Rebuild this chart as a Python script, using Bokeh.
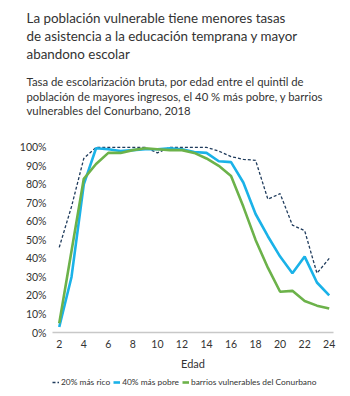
from bokeh.plotting import figure
from bokeh.models import Title, Legend, LegendItem, FixedTicker, Range1d
from bokeh.layouts import column
from bokeh.embed import file_html
from bokeh.resources import INLINE

ages = list(range(2, 25))
rico = [46, 68, 94, 100, 100, 100, 100, 100, 97, 100, 100, 100, 100, 98, 95, 93.5, 93, 72, 75, 58, 55, 32, 40]
pobre = [3, 30, 80, 99.5, 99, 98, 98.5, 99, 99, 99.5, 99, 97.5, 97, 92.5, 92, 81, 64, 52, 41, 32, 41, 27, 20]
barrios = [5, 44, 83, 91, 97, 97, 98.5, 99.5, 99, 98.5, 98.5, 97, 94, 90, 84.5, 68, 50, 35, 22, 22.5, 17, 14.5, 13]

title_lines = "La población vulnerable tiene menores tasas\nde asistencia a la educación temprana y mayor\nabandono escolar"
subtitle_lines = "Tasa de escolarización bruta, por edad entre el quintil de\npoblación de mayores ingresos, el 40 % más pobre, y barrios\nvulnerables del Conurbano, 2018"
series_names = ["20% más rico", "40% más pobre", "barrios vulnerables del Conurbano"]
y_ticks = list(range(0, 101, 10))
x_ticks = list(range(2, 25, 2))

FONT = "Lato"
TXT = "#333333"
COLORS = ["#1F3B5C", "#1AB2E8", "#6CB24A"]
WIDTHS = [1.3, 2.6, 2.6]
DASHES = ["3 2", "solid", "solid"]
series = [rico, pobre, barrios]

p = figure(width=350, height=372, output_backend="svg", toolbar_location=None,
           x_range=Range1d(1.45, 24.35), y_range=Range1d(0, 114.5),
           min_border_left=52, min_border_right=17, min_border_top=8, min_border_bottom=39)
p.outline_line_color = None
p.grid.visible = False
p.background_fill_color = "white"
p.border_fill_color = "white"

for ys, c, w, d in zip(series, COLORS, WIDTHS, DASHES):
    p.line(ages, ys, line_color=c, line_width=w, line_dash=d)

# y axis
p.yaxis.ticker = FixedTicker(ticks=y_ticks)
p.yaxis.major_label_overrides = {v: f"{v}%" for v in y_ticks}
p.yaxis.axis_line_color = None
p.yaxis.major_tick_line_color = None
p.yaxis.minor_tick_line_color = None
p.yaxis.major_tick_out = 0
p.yaxis.major_label_standoff = 6
p.yaxis.major_label_text_font = FONT
p.yaxis.major_label_text_font_size = "10.5px"
p.yaxis.major_label_text_color = TXT

# x axis
p.xaxis.ticker = FixedTicker(ticks=x_ticks)
p.xaxis.axis_line_color = "#c8c8c8"
p.xaxis.axis_line_width = 1.5
p.xaxis.major_tick_line_color = None
p.xaxis.minor_tick_line_color = None
p.xaxis.major_tick_out = 0
p.xaxis.major_label_standoff = 7
p.xaxis.major_label_text_font = FONT
p.xaxis.major_label_text_font_size = "10.5px"
p.xaxis.major_label_text_color = TXT
p.xaxis.axis_label = "Edad"
p.xaxis.axis_label_text_font = FONT
p.xaxis.axis_label_text_font_size = "11px"
p.xaxis.axis_label_text_font_style = "normal"
p.xaxis.axis_label_text_color = TXT
p.xaxis.axis_label_standoff = 6

sub = Title(text=subtitle_lines, text_font=FONT, text_font_size="11.3px", text_font_style="normal",
            text_color=TXT, text_line_height=1.14, offset=-26, standoff=6)
p.add_layout(sub, "above")
ttl = Title(text=title_lines, text_font=FONT, text_font_size="13.4px", text_font_style="normal",
            text_color=TXT, text_line_height=1.14, offset=-26, standoff=15)
p.add_layout(ttl, "above")

# legend strip (separate small figure below the chart)
lg = figure(width=350, height=24, output_backend="svg", toolbar_location=None,
            x_axis_type=None, y_axis_type=None,
            x_range=Range1d(0, 1), y_range=Range1d(0, 1),
            min_border_left=0, min_border_right=0, min_border_top=0, min_border_bottom=0)
lg.grid.visible = False
lg.outline_line_color = None
lg.background_fill_color = "white"
lg.border_fill_color = "white"
items = []
for name, ys, c, w, d in zip(series_names, series, COLORS, WIDTHS, DASHES):
    r = lg.line(ages, ys, line_color=c, line_width=w, line_dash=d)  # outside visible range
    items.append(LegendItem(label=name, renderers=[r]))
legend = Legend(items=items, orientation="horizontal", location=(0, 9),
                glyph_width=7, glyph_height=10, label_standoff=2, spacing=3,
                padding=0, margin=0, border_line_color=None, background_fill_alpha=0,
                label_text_font=FONT, label_text_font_size="8.4px", label_text_color=TXT)
lg.add_layout(legend, "center")

open("out.html", "w").write(file_html(column(p, lg, spacing=0), INLINE))
